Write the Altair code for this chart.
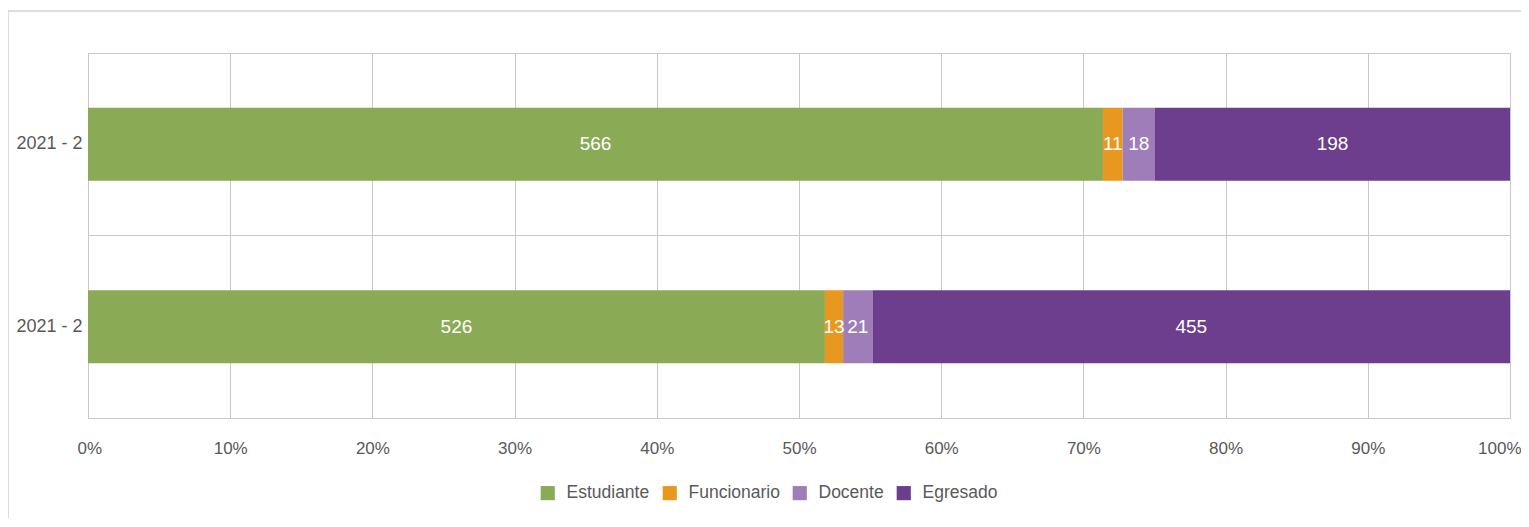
import altair as alt
import pandas as pd
import json

row_labels = ["2021 - 2", "2021 - 2"]
categories = ["Estudiante", "Funcionario", "Docente", "Egresado"]
values_row1 = [566, 11, 18, 198]
values_row2 = [526, 13, 21, 455]
colors = ["#8AAA55", "#E8981F", "#9E7DB8", "#6C3E8D"]
x_ticks = [i / 10 for i in range(11)]

records = []
for r, vals in enumerate([values_row1, values_row2]):
    for k, (c, v) in enumerate(zip(categories, vals)):
        records.append({"row": r, "cat": c, "ord": k, "value": v})
df = pd.DataFrame(records)

FONT = "Liberation Sans"
GRID = "#C9C9C9"

base = alt.Chart(df).transform_stack(
    stack="value", groupby=["row"], as_=["x0", "x1"],
    offset="normalize", sort=[alt.SortField("ord")]
).transform_calculate(mid="(datum.x0 + datum.x1) / 2")

yenc = alt.Y("row:O", title=None,
             scale=alt.Scale(paddingInner=0, paddingOuter=0),
             axis=alt.Axis(labelExpr=json.dumps(row_labels) + "[datum.value]",
                           labelFont=FONT, labelFontSize=18, labelColor="#595959",
                           labelPadding=6, ticks=False, domain=True, domainColor=GRID,
                           grid=True, gridColor=GRID, bandPosition=0))

bars = base.mark_bar(height={"band": 0.4}).encode(
    x=alt.X("x0:Q", title=None,
            scale=alt.Scale(domain=[0, 1], nice=False),
            axis=alt.Axis(format=".0%", values=x_ticks, labelFont=FONT, labelFontSize=17,
                          labelColor="#595959", labelPadding=22, ticks=False,
                          domainColor=GRID, gridColor=GRID,
                          labelFlush=True, labelFlushOffset=11)),
    x2="x1:Q",
    y=yenc,
    color=alt.Color("cat:N", scale=alt.Scale(domain=categories, range=colors),
                    legend=alt.Legend(title=None, orient="none", legendX=451, legendY=431,
                                      direction="horizontal", symbolType="square",
                                      symbolSize=200, symbolStrokeWidth=0,
                                      labelFont=FONT, labelFontSize=17.5, labelColor="#595959",
                                      columnPadding=11, labelOffset=10)),
)

texts = base.mark_text(font=FONT, fontSize=19, color="white").encode(
    x="mid:Q",
    y=alt.Y("row:O"),
    text="value:Q",
)

frame_top = alt.Chart(pd.DataFrame({"a": [0]})).mark_rule(color="#D2D2D2", strokeWidth=1.5, clip=False).encode(
    x=alt.value(-80), x2=alt.value(1440), y=alt.value(-42))
frame_left = alt.Chart(pd.DataFrame({"a": [0]})).mark_rule(color="#D2D2D2", strokeWidth=1.5, clip=False).encode(
    x=alt.value(-80), y=alt.value(-42), y2=alt.value(470))

chart = alt.layer(frame_top, frame_left, bars, texts).properties(
    width=1422, height=365,
    autosize=alt.AutoSizeParams(type="none"),
    padding={"left": 80, "top": 45, "right": 11, "bottom": 100},
).configure_view(stroke=GRID, strokeWidth=1).configure(background="white")

chart.save("out.html", embed_options={"renderer": "svg", "actions": False})
